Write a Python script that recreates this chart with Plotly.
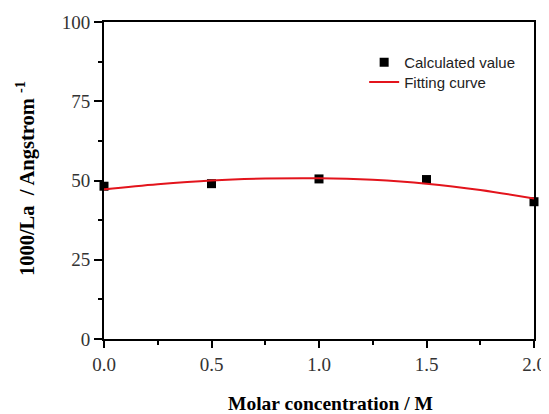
import plotly.graph_objects as go

# Data
conc = [0.0, 0.5, 1.0, 1.5, 2.0]
calc_values = [48.2, 49.0, 50.5, 50.3, 43.3]

fit_x = [0.0, 0.25, 0.5, 0.75, 1.0, 1.25, 1.5, 1.75, 2.0]
fit_y = [47.2, 48.8, 50.0, 50.6, 50.7, 50.2, 49.0, 47.0, 44.3]

x_ticks = [0.0, 0.5, 1.0, 1.5, 2.0]
x_tick_labels = ["0.0", "0.5", "1.0", "1.5", "2.0"]
y_ticks = [0, 25, 50, 75, 100]
y_tick_labels = ["0", "25", "50", "75", "100"]

fig = go.Figure()
fig.add_trace(go.Scatter(
    x=conc, y=calc_values, mode="markers", name="Calculated value",
    marker=dict(symbol="square", size=9, color="black"),
    cliponaxis=False, legend="legend",
))
fig.add_trace(go.Scatter(
    x=fit_x, y=fit_y, mode="lines", name="Fitting curve",
    line=dict(color="#e3141c", width=2, shape="spline"),
    legend="legend2",
))

serif = "Liberation Serif, Times New Roman, serif"
legend_font = dict(family="Liberation Sans, Arial, sans-serif", size=15, color="#222")
# page body has an 8px margin, so the figure is sized to fit the window
fig.update_layout(
    width=541, height=406,
    margin=dict(l=96, r=15, t=14, b=75),
    paper_bgcolor="white", plot_bgcolor="white",
    showlegend=True,
    legend=dict(
        x=0.605, y=0.924, xanchor="left", yanchor="top",
        bgcolor="rgba(0,0,0,0)", borderwidth=0,
        font=legend_font, itemwidth=30,
    ),
    legend2=dict(
        x=0.605, y=0.862, xanchor="left", yanchor="top",
        bgcolor="rgba(0,0,0,0)", borderwidth=0,
        font=legend_font, itemwidth=30,
    ),
    xaxis=dict(
        range=[0, 2], tickmode="array", tickvals=x_ticks, ticktext=x_tick_labels,
        ticks="outside", ticklen=7, tickwidth=2, tickcolor="black",
        minor=dict(ticks="outside", ticklen=4, tickwidth=2, tickcolor="black", dtick=0.25),
        showline=True, linecolor="black", linewidth=2, mirror=True,
        showgrid=False, zeroline=False, automargin=False,
        tickfont=dict(family=serif, size=19, color="#333"),
    ),
    yaxis=dict(
        range=[0, 100], tickmode="array", tickvals=y_ticks, ticktext=y_tick_labels,
        ticks="outside", ticklen=8, tickwidth=2, tickcolor="black",
        minor=dict(ticks="outside", ticklen=4, tickwidth=2, tickcolor="black", dtick=12.5),
        showline=True, linecolor="black", linewidth=2, mirror=True,
        showgrid=False, zeroline=False, automargin=False,
        tickfont=dict(family=serif, size=19, color="#333"),
    ),
    annotations=[
        dict(text="<b>Molar concentration / M</b>", xref="paper", yref="paper",
             x=0.526, y=-0.205, xanchor="center", yanchor="middle", showarrow=False,
             font=dict(family=serif, size=19.5, color="black")),
        dict(text="<b>1000/La&nbsp;&nbsp;/ Angstrom <sup>-1</sup></b>", xref="paper", yref="paper",
             x=-0.181, y=0.505, xanchor="center", yanchor="middle", showarrow=False, textangle=-90,
             font=dict(family=serif, size=20.5, color="black")),
    ],
)

fig.write_html("out.html")
